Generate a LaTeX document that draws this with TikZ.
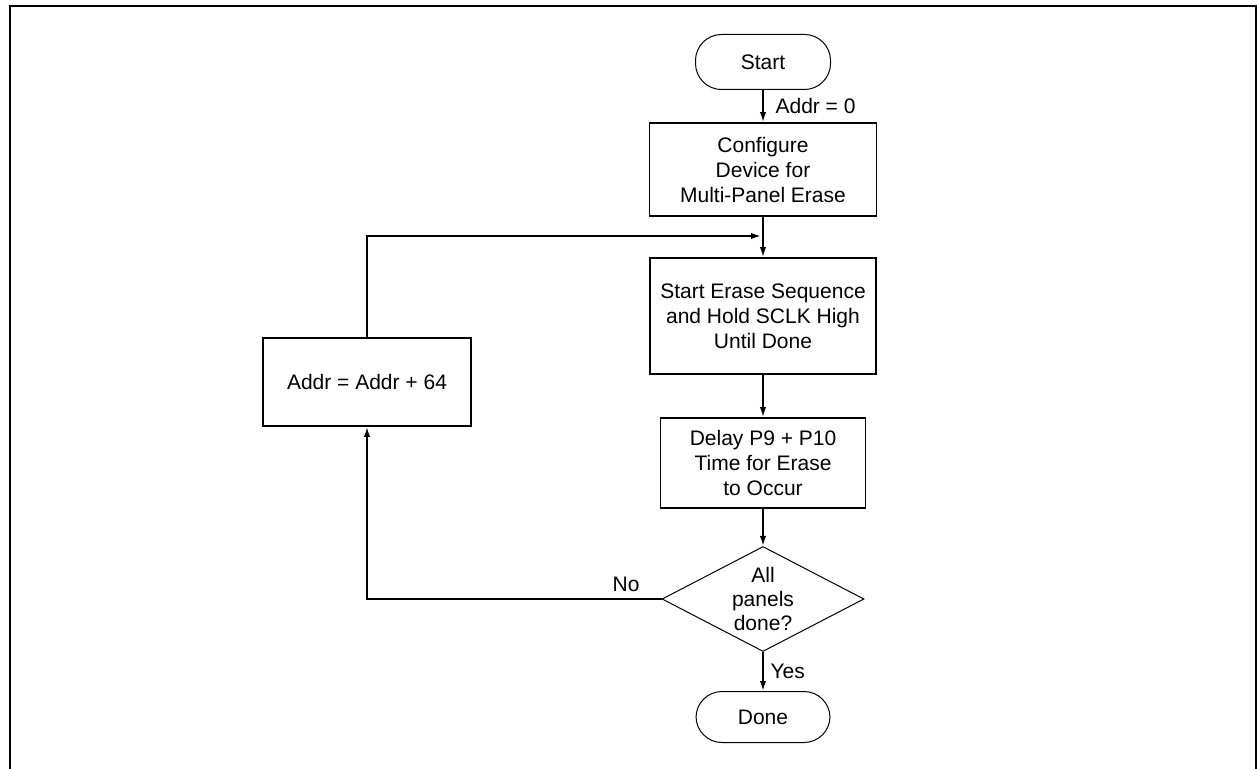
\documentclass[tikz,border=0pt]{standalone}
\usepackage{fontspec}
\setmainfont{Liberation Sans}
\usetikzlibrary{arrows.meta,shapes.geometric}

\begin{document}
\begin{tikzpicture}[x=0.5pt, y=-0.5pt,
    every node/.style={font=\fontsize{10.5}{12.5}\selectfont, align=center},
    term/.style={draw, line width=0.5pt, rounded corners=13pt, inner sep=0pt},
    box/.style={draw, line width=0.9pt, inner sep=0pt},
    decision/.style={draw, diamond, line width=0.5pt, inner sep=0pt, aspect=2},
    flow/.style={line width=0.9pt, -{Latex[length=5pt, width=3.2pt]}}]
    \useasboundingbox (0,0) rectangle (1257,769);
    \draw[line width=0.9pt] (10,769) -- (10,6) -- (1256,6) -- (1256,769);

    \node[term, minimum width=67.5pt, minimum height=27.5pt] (start) at (763,62) {Start};
    \node[box, minimum width=113.5pt, minimum height=46.5pt] (config) at (763,169.5) {Configure\\Device for\\Multi-Panel Erase};
    \node[box, minimum width=113pt, minimum height=58pt] (erase) at (763,316) {Start Erase Sequence\\and Hold SCLK High\\Until Done};
    \node[box, minimum width=102.5pt, minimum height=45pt] (delay) at (763,463) {Delay P9 + P10\\Time for Erase\\to Occur};
    \node[decision, minimum width=101pt, minimum height=52.5pt, font=\fontsize{10.5}{12}\selectfont] (check) at (763,599) {All\\panels\\done?};
    \node[term, minimum width=67pt, minimum height=25.5pt] (done) at (763,717) {Done};
    \node[box, minimum width=104pt, minimum height=44pt] (addr) at (367,382) {Addr = Addr + 64};
    \coordinate (join) at (763,236);

    \draw[flow] (start) -- (config) node[midway, right=2.5pt]{Addr = 0};
    \draw[flow] (config) -- (erase);
    \draw[flow] (erase) -- (delay);
    \draw[flow] (delay) -- (check);
    \draw[flow] (check) -- (done) node[midway, right=0pt]{Yes};
    \draw[flow] (check.west) -| (addr.south) node[pos=0.06, above]{No};
    \draw[flow, shorten >=1pt] (addr.north) |- (join);
\end{tikzpicture}
\end{document}
